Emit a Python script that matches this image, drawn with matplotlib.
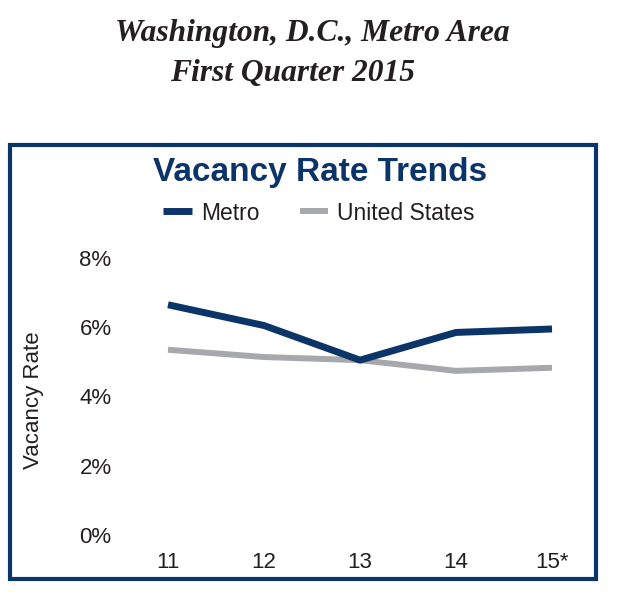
import matplotlib.pyplot as plt
from matplotlib.patches import Rectangle

years = [11, 12, 13, 14, 15]
year_labels = ['11', '12', '13', '14', '15*']
metro = [6.65, 6.05, 5.05, 5.85, 5.95]
us = [5.35, 5.14, 5.05, 4.74, 4.83]
yticks = [0, 2, 4, 6, 8]

navy = '#0b3468'
grey = '#a7a8ab'
txt = '#231f20'

W, H = 618, 616
fig = plt.figure(figsize=(W / 100, H / 100), dpi=100)
plt.rcParams['font.family'] = ['Liberation Sans', 'DejaVu Sans']

# axes placed in pixel terms
left, right = 129.6, 590.4
top, bottom = 258, 535
ax = fig.add_axes([left / W, (H - bottom) / H, (right - left) / W, (bottom - top) / H])
ax.plot(years, us, color=grey, lw=4.3, solid_capstyle='butt', label='United States', zorder=2)
ax.plot(years, metro, color=navy, lw=5, solid_capstyle='butt', label='Metro', zorder=3)
ax.set_xlim(10.6, 15.4)
ax.set_ylim(0, 8)
ax.set_xticks(years)
ax.set_xticklabels(year_labels)
ax.set_yticks(yticks)
ax.set_yticklabels(['%d%%' % v for v in yticks])
ax.tick_params(length=0, labelsize=16, labelcolor=txt)
ax.tick_params(axis='y', pad=13)
ax.tick_params(axis='x', pad=12)
for s in ax.spines.values():
    s.set_visible(False)
ax.set_ylabel('Vacancy Rate', fontsize=16, color=txt)
ax.yaxis.set_label_coords((44 - left) / (right - left), (bottom - 400) / (bottom - top))

# frame around chart
fig.patches.append(Rectangle((10 / W, (H - 579) / H), 586 / W, 434 / H,
                             transform=fig.transFigure, fill=False,
                             edgecolor=navy, lw=3))

fig.text(320 / W, 1 - 172 / H, 'Vacancy Rate Trends', ha='center', va='center',
         fontsize=24, fontweight='bold', color=navy)

handles, labels = ax.get_legend_handles_labels()
fig.legend(handles[::-1], labels[::-1], loc='center', bbox_to_anchor=(319 / W, 1 - 213 / H),
           ncol=2, frameon=False, fontsize=16.5, handlelength=1.25, handletextpad=0.4,
           columnspacing=1.75, labelcolor=txt)

fig.text(312 / W, 1 - 33 / H, 'Washington, D.C., Metro Area', ha='center', va='center',
         family='Liberation Serif', style='italic', fontweight='bold', fontsize=22.7, color=txt)
fig.text(293 / W, 1 - 73 / H, 'First Quarter 2015', ha='center', va='center',
         family='Liberation Serif', style='italic', fontweight='bold', fontsize=22.7, color=txt)

fig.savefig('out.png', dpi=100, facecolor='white')
